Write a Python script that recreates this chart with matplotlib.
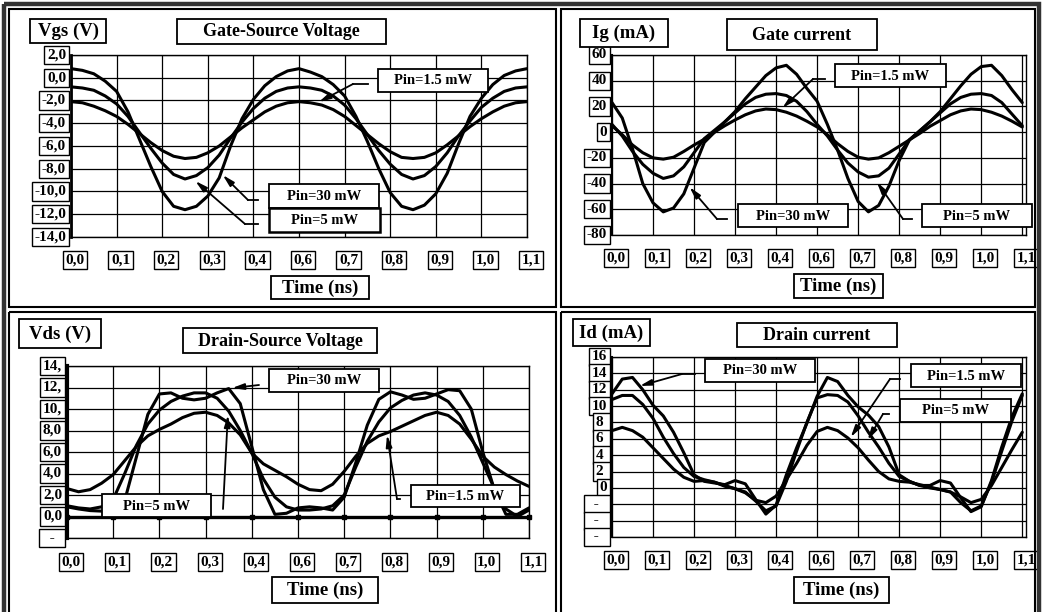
import numpy as np
import matplotlib
matplotlib.use('Agg')
import matplotlib.pyplot as plt
from matplotlib import transforms
from matplotlib.patches import Rectangle
from matplotlib.lines import Line2D

W, H = 1043, 612
plt.rcParams['font.family'] = ['Liberation Serif', 'DejaVu Serif']
plt.rcParams['font.weight'] = 'bold'

# ---------------- data ----------------
time_ns = np.round(np.arange(41) * 0.0275, 4)   # sample instants 0 .. 1.1 ns
x_tick_values = [round(i * 0.11, 2) for i in range(11)]
x_tick_labels = ['0,0', '0,1', '0,2', '0,3', '0,4', '0,6', '0,7', '0,8', '0,9', '1,0', '1,1']

vgs_30 = [0.8, 0.65, 0.35, -0.3, -1.2, -3.0, -5.4, -7.8, -10.0, -11.3, -11.6, -11.3, -10.4, -8.8, -6.0, -3.6,
          -1.9, -0.7, 0.1, 0.6, 0.8, 0.5, 0.1, -0.6, -1.6, -3.4, -5.6, -8.0, -10.1, -11.3, -11.6, -11.2, -10.2,
          -8.4, -5.8, -3.4, -1.8, -0.6, 0.2, 0.6, 0.8]
vgs_5 = [-0.8, -0.9, -1.1, -1.6, -2.3, -3.4, -4.8, -6.2, -7.5, -8.5, -8.9, -8.6, -7.9, -6.8, -5.3, -3.9,
         -2.7, -1.8, -1.2, -0.9, -0.8, -0.9, -1.1, -1.6, -2.4, -3.6, -5.0, -6.4, -7.6, -8.5, -8.9, -8.6, -7.8,
         -6.6, -5.1, -3.8, -2.6, -1.8, -1.2, -0.9, -0.8]
vgs_15 = [-2.1, -2.2, -2.5, -2.9, -3.4, -4.1, -4.9, -5.7, -6.4, -6.9, -7.1, -7.0, -6.6, -6.0, -5.2, -4.4,
          -3.7, -3.0, -2.5, -2.2, -2.1, -2.2, -2.4, -2.8, -3.4, -4.2, -5.0, -5.8, -6.5, -7.0, -7.1, -7.0, -6.6,
          -5.9, -5.1, -4.3, -3.6, -3.0, -2.5, -2.2, -2.1]

ig_30 = [23, 11, -13, -40, -55, -62, -59, -48, -28, -8, 0, 8, 16, 26, 35, 44, 50, 52, 45, 34, 24,
         6, -14, -36, -54, -62, -57, -42, -22, -6, 1, 8, 16, 26, 36, 45, 51, 52, 44, 33, 23]
ig_5 = [6, -3, -15, -25, -32, -36, -34, -27, -16, -5, 1.5, 8, 15, 22, 27, 29.5, 30, 28.5, 24, 16, 6,
        -3, -14, -24, -31, -35, -34, -28, -17, -6, 1, 8, 15, 22, 27, 29.5, 30, 28.5, 23, 14, 5]
ig_15 = [5, -2, -10, -16, -20, -21, -19.5, -15, -10, -5.5, 0, 5, 9.5, 13.5, 16.5, 18, 17.5, 15.5, 12.5, 8.5, 4,
         -2, -9, -15, -19.5, -21, -20, -16, -11, -6, -1, 4.5, 9, 13.5, 16.5, 18, 17.5, 15.5, 12.5, 8.5, 4]

vds_30 = [0.9, 0.7, 0.55, 0.5, 0.6, 1.5, 5.5, 9.5, 11.4, 11.5, 11.0, 10.85, 11.0, 11.5, 11.9, 10.5,
          6.5, 2.5, 0.2, 0.3, 0.8, 0.9, 0.8, 0.6, 1.8, 5.0, 8.5, 10.9, 11.6, 11.3, 10.9, 11.0, 11.4,
          11.8, 11.7, 10.0, 6.0, 2.5, 0.2, 0.2, 0.8]
vds_5 = [1.0, 0.8, 0.7, 0.9, 1.6, 4.0, 6.6, 8.6, 9.9, 10.7, 11.2, 11.5, 11.5, 11.0, 9.8, 8.0,
         5.9, 3.5, 1.8, 0.9, 0.6, 0.6, 0.7, 1.0, 2.0, 4.6, 7.0, 8.8, 10.1, 10.8, 11.3, 11.5, 11.3,
         10.7, 9.4, 7.4, 5.0, 2.6, 0.7, 0.0, 0.6]
vds_15 = [2.6, 2.3, 2.5, 3.1, 3.9, 5.2, 6.5, 7.5, 8.1, 8.6, 9.2, 9.6, 9.7, 9.4, 8.7, 7.6,
          5.9, 4.9, 4.3, 3.7, 3.0, 2.5, 2.4, 3.0, 4.2, 5.6, 6.8, 7.5, 7.9, 8.4, 8.9, 9.4, 9.7,
          9.4, 8.6, 7.2, 5.6, 4.6, 3.9, 3.3, 2.8]

id_30 = [11.5, 13.3, 13.5, 12.0, 10.1, 8.8, 6.8, 4.3, 1.6, 0.8, 0.6, 0.4, 0.9, 0.5, -1.4, -3.2,
         -2.1, 1.6, 4.9, 7.9, 11.2, 13.5, 13.0, 11.3, 9.9, 8.9, 7.5, 5.0, 1.6, 0.8, 0.3, 0.3, 0.9,
         0.6, -1.2, -2.9, -2.3, 0.9, 5.0, 8.7, 11.5]
id_5 = [10.8, 11.3, 11.3, 10.2, 8.5, 6.2, 4.2, 2.5, 1.4, 1.0, 0.7, 0.2, -0.1, -0.5, -1.6, -2.8,
        -2.2, 0.8, 4.5, 8.0, 11.0, 11.4, 11.3, 10.5, 8.8, 6.8, 5.0, 3.0, 1.4, 0.8, 0.3, 0.0, -0.2,
        -0.5, -1.8, -2.8, -2.2, 0.7, 4.5, 8.2, 11.3]
id_15 = [7.0, 7.4, 7.0, 6.2, 4.9, 3.6, 2.3, 1.3, 0.8, 0.9, 0.7, 0.3, -0.1, -0.6, -1.5, -1.8,
         -1.0, 1.0, 3.0, 5.2, 6.9, 7.4, 7.0, 6.1, 4.9, 3.4, 2.0, 1.1, 0.8, 0.7, 0.4, 0.1, -0.2,
         -0.5, -1.1, -1.8, -1.4, 0.3, 2.5, 4.7, 6.8]

vgs_ticks = [2, 0, -2, -4, -6, -8, -10, -12, -14]
vgs_tick_labels = ['2,0', '0,0', '-2,0', '-4,0', '-6,0', '-8,0', '-10,0', '-12,0', '-14,0']
ig_ticks = [60, 40, 20, 0, -20, -40, -60, -80]
ig_tick_labels = ['60', '40', '20', '0', '-20', '-40', '-60', '-80']
vds_ticks = [14, 12, 10, 8, 6, 4, 2, 0, -2]
vds_tick_labels = ['14,', '12,', '10,', '8,0', '6,0', '4,0', '2,0', '0,0', '  -  ']
id_ticks = [16, 14, 12, 10, 8, 6, 4, 2, 0, -2, -4, -6]
id_tick_labels = ['16', '14', '12', '10', '8 ', '6 ', '4 ', '2 ', '0', '  -  ', '  -  ', '  -  ']

# ---------------- figure ----------------
fig = plt.figure(figsize=(W / 100, H / 100), dpi=100)
fig.patch.set_facecolor('white')
PX = transforms.Affine2D().scale(1 / W, -1 / H).translate(0, 1) + fig.transFigure


def box(x0, y0, x1, y1, text, size, lw=1.3):
    fig.add_artist(Rectangle((x0, y0), x1 - x0, y1 - y0, transform=PX, fc='white',
                             ec='black', lw=lw, zorder=5))
    fig.text((x0 + x1) / 2, (y0 + y1) / 2 + 0.5, text, transform=PX, ha='center', va='center',
             fontsize=size, fontweight='bold', zorder=6)


def seg(pts, lw=1.3):
    xs, ys = zip(*pts)
    fig.add_artist(Line2D(xs, ys, transform=PX, color='black', lw=lw, zorder=4))


# frames
fig.add_artist(Rectangle((4, 4), 1035, 620, transform=PX, fill=False, ec='#333333', lw=3.2, zorder=2))
for (x0, y0, x1, y1) in [(9, 9, 556, 307), (561, 9, 1035, 307), (9, 312, 556, 630), (561, 312, 1035, 630)]:
    fig.add_artist(Rectangle((x0, y0), x1 - x0, y1 - y0, transform=PX, fill=False, ec='black',
                             lw=1.5, zorder=2))


def panel(rect, xmax, ylim, ticks, labels, series, xlab_y, left_lw):
    l, t, r, b = rect
    ax = fig.add_axes([l / W, 1 - b / H, (r - l) / W, (b - t) / H])
    for vals in series:
        ax.plot(time_ns, vals, color='black', lw=2.2, solid_joinstyle='round',
                solid_capstyle='round', zorder=3)
    ax.set_xlim(0, xmax)
    ax.set_ylim(*ylim)
    ax.set_xticks(x_tick_values)
    ax.set_yticks(ticks)
    ax.grid(True, color='black', lw=0.9)
    ax.tick_params(length=0, labelbottom=False, labelleft=False)
    for s in ax.spines.values():
        s.set_color('black')
        s.set_linewidth(1.0)
    ax.spines['left'].set_linewidth(left_lw)
    ytr = transforms.blended_transform_factory(PX, ax.transData)
    for v, lab in zip(ticks, labels):
        ax.text(l - 5, v, lab, transform=ytr, ha='right', va='center', fontsize=11,
                fontweight='bold', clip_on=False,
                bbox=dict(boxstyle='square,pad=0.17', fc='white', ec='black', lw=1.0))
    off = transforms.ScaledTranslation(4 / 100, 0, fig.dpi_scale_trans)
    xtr = transforms.blended_transform_factory(ax.transData + off, PX)
    for v, lab in zip(x_tick_values, x_tick_labels):
        ax.text(v, xlab_y, lab, transform=xtr, ha='center', va='center', fontsize=11,
                fontweight='bold', clip_on=False,
                bbox=dict(boxstyle='square,pad=0.17', fc='white', ec='black', lw=1.0))
    return ax


def arrow(ax, tip, elbow, start):
    if start != elbow:
        seg([start, elbow])
    ax.annotate('', xy=tip, xycoords='data', xytext=elbow, textcoords=PX,
                arrowprops=dict(arrowstyle='-|>,head_length=0.7,head_width=0.18', color='black',
                                lw=1.3, shrinkA=0, shrinkB=0),
                annotation_clip=False, zorder=4)


# ---- Gate-Source Voltage ----
ax1 = panel((71, 55, 527, 237), 1.1, (-14, 2), vgs_ticks, vgs_tick_labels,
            [vgs_30, vgs_5, vgs_15], 260, 2.0)
box(30, 19, 106, 43, 'Vgs (V)', 13.5)
box(177, 19, 386, 44, 'Gate-Source Voltage', 13)
box(271, 276, 369, 299, 'Time (ns)', 13.5)
arrow(ax1, (0.598, -2.13), (353, 84), (368, 84))
arrow(ax1, (0.366, -8.55), (248, 200), (258, 200))
arrow(ax1, (0.300, -9.08), (245, 224), (258, 224))
box(378, 69, 488, 92, 'Pin=1.5 mW', 10.5)
box(269, 184, 379, 208, 'Pin=30 mW', 10.5)
box(269, 208, 380, 232, 'Pin=5 mW', 10.5, lw=1.8)

# ---- Gate current ----
ax2 = panel((612, 55, 1026, 235), 1.11, (-80, 60), ig_ticks, ig_tick_labels,
            [ig_30, ig_5, ig_15], 258, 1.5)
box(580, 19, 668, 47, 'Ig (mA)', 13.5)
box(727, 19, 877, 50, 'Gate current', 13)
box(794, 274, 883, 298, 'Time (ns)', 13.5)
arrow(ax2, (0.457, 18.8), (813, 79), (825, 79))
arrow(ax2, (0.208, -42.7), (717, 219), (727, 219))
arrow(ax2, (0.710, -38.8), (903, 219), (912, 219))
box(835, 64, 946, 87, 'Pin=1.5 mW', 10.5)
box(738, 204, 848, 227, 'Pin=30 mW', 10.5)
box(922, 204, 1032, 227, 'Pin=5 mW', 10.5)

# ---- Drain-Source Voltage ----
ax3 = panel((67, 366, 529, 538), 1.1, (-2, 14), vds_ticks, vds_tick_labels,
            [vds_30, vds_5, vds_15], 562, 3.0)
ax3.axhline(0, color='black', lw=2.4, zorder=2)
ax3.plot(x_tick_values, [0] * 11, 's', ms=3.2, color='black', clip_on=False, zorder=2)
box(19, 319, 101, 348, 'Vds (V)', 13.5)
box(183, 328, 377, 353, 'Drain-Source Voltage', 13)
box(272, 577, 378, 603, 'Time (ns)', 13.5)
arrow(ax3, (0.393, 11.95), (259, 385), (259, 385))
arrow(ax3, (0.383, 9.44), (223, 509), (223, 509))
arrow(ax3, (0.762, 7.58), (397, 499), (400, 499))
box(269, 369, 379, 392, 'Pin=30 mW', 10.5)
box(102, 494, 211, 517, 'Pin=5 mW', 10.5)
box(411, 485, 520, 507, 'Pin=1.5 mW', 10.5)

# ---- Drain current ----
ax4 = panel((612, 357, 1026, 537), 1.11, (-6, 16), id_ticks, id_tick_labels,
            [id_30, id_5, id_15], 560, 1.5)
box(573, 319, 650, 346, 'Id (mA)', 13.5)
box(737, 323, 897, 347, 'Drain current', 13)
box(794, 577, 889, 603, 'Time (ns)', 13.5)
arrow(ax4, (0.0744, 12.46), (682, 374), (695, 374))
arrow(ax4, (0.640, 6.2), (890, 379), (900, 379))
arrow(ax4, (0.6855, 5.86), (883, 414), (889, 414))
box(705, 359, 815, 382, 'Pin=30 mW', 10.5)
box(911, 364, 1021, 387, 'Pin=1.5 mW', 10.5)
box(900, 399, 1011, 422, 'Pin=5 mW', 10.5)

fig.savefig('out.png', dpi=100, facecolor='white')
